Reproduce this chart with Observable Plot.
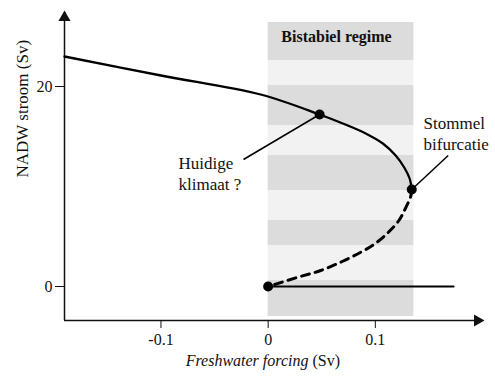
<!DOCTYPE html>
<html>
<head>
<meta charset="utf-8">
<script src="https://cdn.jsdelivr.net/npm/d3@7"></script>
<script src="https://cdn.jsdelivr.net/npm/@observablehq/plot@0.6"></script>
<style>
  html, body { margin: 0; padding: 0; background: #fff; }
  #chart svg { display: block; }
  #chart svg, #chart svg text { font-family: "Liberation Serif", "LiberationSerif", "Times New Roman", Times, Tinos, "Noto Serif", "DejaVu Serif", serif !important; }
</style>
</head>
<body>
<div id="chart"></div>
<script>
// ---- data ----
const xDomain = [-0.19, 0.2];
const yDomain = [-3.4, 27.4];
const xTicks = [-0.1, 0, 0.1];
const yTicks = [0, 20];

// stable upper branch (NADW on)
const upperX = [-0.19, -0.100, -0.007, 0.048, 0.072, 0.091, 0.107, 0.119, 0.127, 0.132, 0.134];
const upperY = [23.0, 21.1, 19.2, 17.2, 16.2, 15.3, 14.3, 13.1, 11.9, 10.8, 9.7];
// unstable branch (dashed)
const unstableX = [0.134, 0.133, 0.128, 0.122, 0.112, 0.100, 0.086, 0.069, 0.049, 0.027, 0];
const unstableY = [9.7, 9.0, 7.8, 6.6, 5.4, 4.3, 3.4, 2.5, 1.6, 0.9, 0];
// stable lower branch (NADW off)
const lowerX = [0, 0.173];
const lowerY = [0, 0];
// marked states
const stateX = [0.048, 0.134, 0];
const stateY = [17.2, 9.7, 0];

// bistable regime shading bands
const bandX = [0, 0.136];
const bandY1 = [26.4, 22.6, 20.1, 16.1, 13.1, 9.6, 6.6, 4.1, 0.6];
const bandY2 = [22.6, 20.1, 16.1, 13.1, 9.6, 6.6, 4.1, 0.6, -3.0];
const bandShade = ["dense", "sparse", "dense", "sparse", "dense", "sparse", "dense", "sparse", "dense"];

// annotations
const leaderX1 = [-0.023, 0.168];
const leaderY1 = [12.7, 13.1];
const leaderX2 = [0.048, 0.134];
const leaderY2 = [17.2, 9.7];
const labelText = ["Huidige\nklimaat ?", "Stommel\nbifurcatie"];
const labelX = [-0.0836, 0.145];
const labelY = [11.35, 15.35];
const titleText = "Bistabiel regime";
const titleX = 0.0638, titleY = 25.0;
const xLabelItalic = "Freshwater forcing", xLabelRoman = "(Sv)";
const xLabelX = 0.0395, xLabelY = -7.4;
const yLabel = "NADW stroom (Sv)";

// ---- tables ----
const toPts = (xs, ys) => xs.map((x, i) => ({x, y: ys[i]}));
const upper = toPts(upperX, upperY);
const unstable = toPts(unstableX, unstableY);
const lower = toPts(lowerX, lowerY);
const states = toPts(stateX, stateY);
const bands = bandY1.map((y1, i) => ({x1: bandX[0], x2: bandX[1], y1, y2: bandY2[i], shade: bandShade[i]}));
const leaders = leaderX1.map((x, i) => ({x1: x, y1: leaderY1[i], x2: leaderX2[i], y2: leaderY2[i]}));
const labels = labelText.map((t, i) => ({t, x: labelX[i], y: labelY[i]}));

const font = "'Liberation Serif', 'Times New Roman', 'DejaVu Serif', serif";

const plot = Plot.plot({
  width: 495,
  height: 378,
  marginLeft: 64,
  marginRight: 13,
  marginTop: 12,
  marginBottom: 58,
  style: {fontSize: "16px", color: "#111", background: "#fff"},
  x: {domain: xDomain},
  y: {domain: yDomain},
  marks: [
    Plot.rectY(bands, {x1: "x1", x2: "x2", y1: "y1", y2: "y2",
      fill: d => d.shade === "dense" ? "#dcdcdc" : "#f2f2f2"}),
    Plot.text([titleText], {x: titleX, y: titleY, text: d => d, fontWeight: "bold", fontSize: 16, fill: "#111"}),
    Plot.ruleY([yDomain[0]], {stroke: "#111", strokeWidth: 1.5}),
    Plot.ruleX([xDomain[0]], {stroke: "#111", strokeWidth: 1.5}),
    Plot.dot([{x: xDomain[0], y: yDomain[1]}], {x: "x", y: "y", symbol: "triangle", r: 4.5, fill: "#111", stroke: "none", dy: 5}),
    Plot.dot([{x: xDomain[1], y: yDomain[0]}], {x: "x", y: "y", symbol: "triangle", r: 4.5, fill: "#111", stroke: "none", rotate: 90, dx: -5}),
    Plot.axisX({ticks: xTicks, tickSize: 8, tickPadding: 5, tickFormat: d => String(d), fontSize: 16, label: null, stroke: "#111"}),
    Plot.axisY({ticks: yTicks, tickSize: 9, tickPadding: 3, tickFormat: d => String(d), fontSize: 16, label: null, stroke: "#111"}),
    Plot.line(upper, {x: "x", y: "y", curve: "catmull-rom", stroke: "#000", strokeWidth: 2.3}),
    Plot.line(unstable, {x: "x", y: "y", curve: "catmull-rom", stroke: "#000", strokeWidth: 3, strokeDasharray: "8,6"}),
    Plot.line(lower, {x: "x", y: "y", stroke: "#000", strokeWidth: 2}),
    Plot.link(leaders, {x1: "x1", y1: "y1", x2: "x2", y2: "y2", stroke: "#000", strokeWidth: 1.5}),
    Plot.dot(states, {x: "x", y: "y", r: 5, fill: "#000", stroke: "none"}),
    Plot.text(labels, {x: "x", y: "y", text: "t", textAnchor: "start", lineHeight: 1.25, fontSize: 17, fill: "#111"}),
    Plot.text([xLabelItalic], {x: xLabelX, y: xLabelY, text: d => d, textAnchor: "end", dx: -2, fontStyle: "italic", fontSize: 16, fill: "#111"}),
    Plot.text([xLabelRoman], {x: xLabelX, y: xLabelY, text: d => d, textAnchor: "start", dx: 2, fontSize: 16, fill: "#111"}),
    Plot.text([yLabel], {frameAnchor: "left", text: d => d, rotate: -90, dx: -42, dy: 11, fontSize: 17, fill: "#111"})
  ]
});
plot.style.fontFamily = font;
d3.select(plot).selectAll("text").style("font-family", font);
document.getElementById("chart").appendChild(plot);
</script>
</body>
</html>
